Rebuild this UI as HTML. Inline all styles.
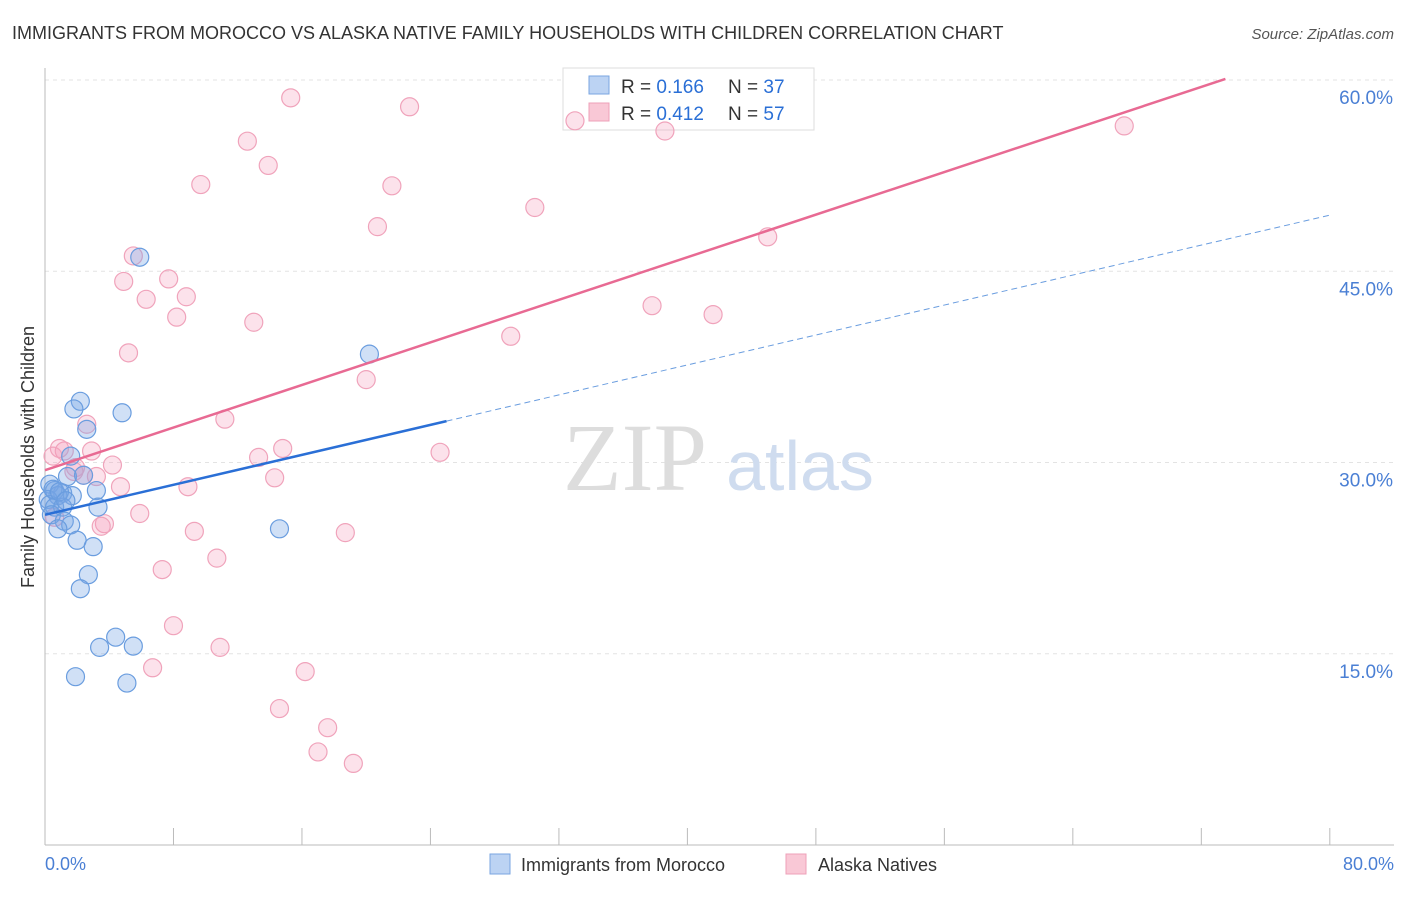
<!DOCTYPE html>
<html><head><meta charset="utf-8"><style>
body{margin:0;background:#fff;font-family:"Liberation Sans",sans-serif;}
</style></head><body>
<svg width="1406" height="892" xmlns="http://www.w3.org/2000/svg">
<text x="12" y="39" font-size="18" fill="#333">IMMIGRANTS FROM MOROCCO VS ALASKA NATIVE FAMILY HOUSEHOLDS WITH CHILDREN CORRELATION CHART</text>
<text x="1394" y="39" font-size="15" fill="#555" font-style="italic" text-anchor="end">Source: ZipAtlas.com</text>
<g id="grid"></g>
<text x="635" y="490" font-size="96" fill="#ddd" font-family="Liberation Serif" text-anchor="middle">ZIP</text>
<text x="800" y="490" font-size="70" fill="#cfdcef" text-anchor="middle">atlas</text>
<line x1="45" y1="68" x2="45" y2="845" stroke="#bbb"/>
<line x1="45" y1="845" x2="1394" y2="845" stroke="#bbb"/>
<g>
<rect x="563" y="68" width="251" height="62" fill="#fff" stroke="#ddd"/>
<rect x="589" y="76" width="20" height="18" fill="#bcd3f3" stroke="#7aa6e0"/>
<text x="621" y="93" font-size="19" fill="#333">R = <tspan fill="#2a6fd6">0.166</tspan><tspan x="728">N = </tspan><tspan fill="#2a6fd6">37</tspan></text>
<rect x="589" y="103" width="20" height="18" fill="#f9c8d6" stroke="#eea0b8"/>
<text x="621" y="120" font-size="19" fill="#333">R = <tspan fill="#2a6fd6">0.412</tspan><tspan x="728">N = </tspan><tspan fill="#2a6fd6">57</tspan></text>
</g>
<g id="pts"></g>
<g id="lines"></g>
<text x="34" y="457" font-size="18" fill="#333" transform="rotate(-90 34 457)" text-anchor="middle">Family Households with Children</text>
<text x="45" y="870" font-size="18" fill="#4a7fd4">0.0%</text>
<text x="1394" y="870" font-size="18" fill="#4a7fd4" text-anchor="end">80.0%</text>
<g>
<rect x="490" y="854" width="20" height="20" fill="#bcd3f3" stroke="#7aa6e0"/>
<text x="521" y="871" font-size="18" fill="#333">Immigrants from Morocco</text>
<rect x="786" y="854" width="20" height="20" fill="#f9c8d6" stroke="#eea0b8"/>
<text x="818" y="871" font-size="18" fill="#333">Alaska Natives</text>
</g>
</svg>
<script>
const yTicks=[15,30,45,60];
const xTicks=[0,8,16,24,32,40,48,56,64,72,80];
const blueX=[5.9,20.2,2.2,1.8,4.8,2.6,1.6,1.4,2.4,3.2,1.1,0.3,0.6,0.8,1.7,0.2,0.3,0.6,3.3,1.1,0.4,1.2,1.6,0.8,2.0,3.0,14.6,2.7,2.2,4.4,5.5,3.4,1.9,5.1,0.5,0.9,1.3];
const blueY=[46.1,38.5,34.8,34.2,33.9,32.6,30.5,28.9,29.0,27.8,27.6,28.3,27.8,27.4,27.4,27.1,26.7,26.5,26.5,26.5,25.9,25.4,25.1,24.8,23.9,23.4,24.8,21.2,20.1,16.3,15.6,15.5,13.2,12.7,27.9,27.7,27.0];
const pinkX=[15.3,22.7,33.0,38.6,67.2,12.6,13.9,9.7,21.6,30.5,20.7,45.0,5.5,4.9,7.7,6.3,8.8,8.2,13.0,37.8,41.6,29.0,5.2,20.0,11.2,2.6,1.2,2.9,14.8,24.6,0.5,13.3,4.2,1.9,2.4,3.2,14.3,4.7,8.9,5.9,3.7,3.5,9.3,18.7,10.7,7.3,8.0,10.9,6.7,16.2,14.6,17.6,17.0,19.2,0.6,0.9,1.8];
const pinkY=[58.6,57.9,56.8,56.0,56.4,55.2,53.3,51.8,51.7,50.0,48.5,47.7,46.2,44.2,44.4,42.8,43.0,41.4,41.0,42.3,41.6,39.9,38.6,36.5,33.4,33.0,30.9,30.9,31.1,30.8,30.5,30.4,29.8,29.6,29.0,28.9,28.8,28.1,28.1,26.0,25.2,25.0,24.6,24.5,22.5,21.6,17.2,15.5,13.9,13.6,10.7,9.2,7.3,6.4,25.7,31.1,29.3];
const blueTrend=[25.9,49.4];
const pinkTrend=[29.4,62.8];
const X=v=>45+v*16.06, Y=v=>845-v*12.75;
const NS="http://www.w3.org/2000/svg";
const grid=document.getElementById('grid');
yTicks.forEach(t=>{
 const l=document.createElementNS(NS,'line');
 l.setAttribute('x1',45);l.setAttribute('x2',1394);l.setAttribute('y1',Y(t));l.setAttribute('y2',Y(t));
 l.setAttribute('stroke','#e3e3e3');l.setAttribute('stroke-dasharray','4,4');
 
 
 grid.appendChild(l);
 const tx=document.createElementNS(NS,'text');
 tx.setAttribute('x',1393);tx.setAttribute('y',Y(t)+24);tx.setAttribute('text-anchor','end');
 tx.setAttribute('font-size','19');tx.setAttribute('fill','#4a7fd4');tx.textContent=t.toFixed(1)+'%';
 
 
 grid.appendChild(tx);
});
xTicks.forEach(t=>{
 if(t===0)return;
 const l=document.createElementNS(NS,'line');
 l.setAttribute('x1',X(t));l.setAttribute('x2',X(t));l.setAttribute('y1',828);l.setAttribute('y2',845);
 l.setAttribute('stroke','#bbb');
 
 
 grid.appendChild(l);
});
const pts=document.getElementById('pts');
function dots(xs,ys,fill,stroke,name){
 xs.forEach((x,i)=>{
  const c=document.createElementNS(NS,'circle');
  c.setAttribute('cx',X(x));c.setAttribute('cy',Y(ys[i]));c.setAttribute('r',9);
  c.setAttribute('fill',fill);c.setAttribute('stroke',stroke);c.setAttribute('stroke-width','1.2');
  
  
  pts.appendChild(c);
 });
}
dots(pinkX,pinkY,'rgba(244,160,188,0.3)','#f0a3bb','alaska-point');
dots(blueX,blueY,'rgba(120,165,230,0.35)','#6a9ddf','morocco-point');
const lines=document.getElementById('lines');
function ln(x1,y1,x2,y2,col,w,dash,name){
 const l=document.createElementNS(NS,'line');
 l.setAttribute('x1',X(x1));l.setAttribute('y1',Y(y1));l.setAttribute('x2',X(x2));l.setAttribute('y2',Y(y2));
 l.setAttribute('stroke',col);l.setAttribute('stroke-width',w);if(dash)l.setAttribute('stroke-dasharray',dash);
 
 
 lines.appendChild(l);
}
const bAt=x=>blueTrend[0]+(blueTrend[1]-blueTrend[0])*x/80;
const pAt=x=>pinkTrend[0]+(pinkTrend[1]-pinkTrend[0])*x/80;
ln(25,bAt(25),80,bAt(80),'#6a9ddf',1,'6,4','morocco-trend-dashed');
ln(0,bAt(0),25,bAt(25),'#2a6fd6',2.5,null,'morocco-trend');
ln(0,pAt(0),73.5,pAt(73.5),'#e86a93',2.5,null,'alaska-trend');
</script>
</body></html>
